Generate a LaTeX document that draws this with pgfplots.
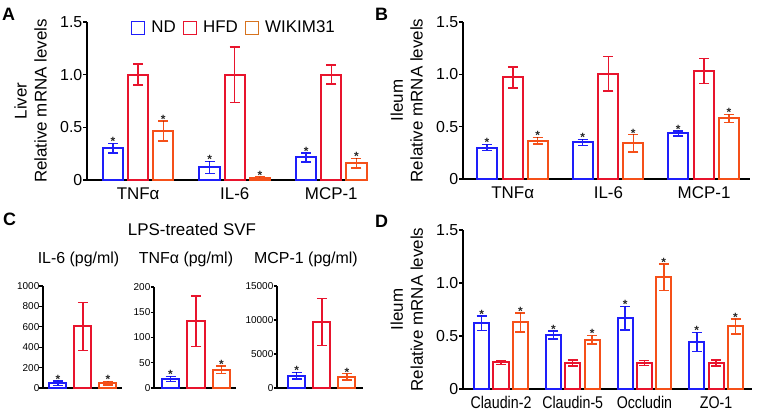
\documentclass[border=0pt]{standalone}
\usepackage{fontspec}
\setmainfont{Liberation Sans}
\newfontfamily\narrowfont{Liberation Sans}[FakeStretch=0.84]
\usepackage{pgfplots}
\pgfplotsset{compat=1.18}
\definecolor{ndblue}{RGB}{30,30,250}
\definecolor{hfdred}{RGB}{232,20,45}
\definecolor{wkorange}{RGB}{245,80,25}
\definecolor{wklegend}{RGB}{215,115,30}
\pgfplotsset{
  common/.style={scale only axis, axis x line*=bottom, axis y line*=left,
    axis line style={line width=1.5bp, black},
    tick align=outside,
    ytick style={line width=1.5bp, black},
    xtick style={draw=none},
    clip=false, ymin=0},
  bigaxis/.style={common, major tick length=4bp,
    yticklabel style={font=\fontsize{16}{18}\selectfont, inner sep=0.5bp},
    xticklabel style={font=\fontsize{17}{19}\selectfont},
    ylabel style={font=\fontsize{17}{20}\selectfont, align=center, inner sep=0pt, anchor=south},
    ymax=1.5, ytick={0,0.5,1,1.5}, yticklabels={0,0.5,1.0,1.5}},
  smallaxis/.style={common, major tick length=3.5bp,
    axis line style={line width=1.2bp}, ytick style={line width=1.2bp},
    yticklabel style={font=\fontsize{10}{11}\selectfont, inner sep=0pt},
    scaled y ticks=false,
    xtick=\empty},
  barsty/.style 2 args={ybar, bar shift=0pt, bar width=#1, fill=white, line width=2bp, draw=#2,
    error bars/y dir=both, error bars/y explicit,
    error bars/error bar style={line width=1.5bp, draw=#2},
    error bars/error mark options={rotate=90, mark size=5bp, line width=1.5bp, draw=#2}},
  starsty/.style={forget plot, only marks, mark=*, mark size=0.01pt,
    mark options={draw=none, fill=none},
    nodes near coords={*},
    nodes near coords style={anchor=base, inner sep=0pt, yshift=-2.3bp,
      font=\bfseries\fontsize{12}{12}\selectfont, text=black!85}},
  sqleg/.style={legend image code/.code={\draw[##1, line width=1.3bp, fill=white] (0bp,-6.5bp) rectangle (13bp,6.5bp);}},
}
\begin{document}
\begin{tikzpicture}
\path[use as bounding box] (0,0) rectangle (759bp,414bp);

% ---------------- Panel A ----------------
\begin{axis}[bigaxis, at={(87bp,234bp)}, anchor=south west,
  width=280bp, height=158bp, xmin=-0.53, xmax=2.37,
  xtick={0,1,2}, xticklabels={TNFα, IL-6, MCP-1},
  ylabel={Liver\\Relative mRNA levels},
  ylabel style={at={(axis description cs:-0.143,0.5)}},
  legend columns=3,
  legend style={at={(axis description cs:0.525,1.02)}, anchor=north, draw=none, fill=none,
    font=\fontsize{17}{19}\selectfont, inner sep=0pt,
    /tikz/every odd column/.append style={column sep=4bp},
    /tikz/every even column/.append style={column sep=5bp}}]
\addlegendimage{sqleg, draw=ndblue}\addlegendentry{ND}
\addlegendimage{sqleg, draw=hfdred}\addlegendentry{HFD}
\addlegendimage{sqleg, draw=wklegend}\addlegendentry{WIKIM31}
\addplot[forget plot, barsty={0.21}{ndblue}] coordinates {(-0.26,0.30) +- (0,0.045) (0.74,0.12) +- (0,0.057) (1.74,0.215) +- (0,0.043)};
\addplot[forget plot, barsty={0.21}{hfdred}] coordinates {(0,1.0) +- (0,0.1) (1,1.0) +- (0,0.265) (2,1.0) +- (0,0.09)};
\addplot[forget plot, barsty={0.21}{wkorange}] coordinates {(0.26,0.465) +- (0,0.093) (1.26,0.016) +- (0,0.012) (2.26,0.16) +- (0,0.045)};
\addplot[starsty] coordinates {(-0.26,0.345) (0.74,0.177) (1.74,0.258) (0.26,0.558) (1.26,0.028) (2.26,0.205)};
\end{axis}

% ---------------- Panel B ----------------
\begin{axis}[bigaxis, at={(463bp,235bp)}, anchor=south west,
  width=287bp, height=157bp, xmin=-0.52, xmax=2.48,
  xtick={0,1,2}, xticklabels={TNFα, IL-6, MCP-1},
  ylabel={Ileum\\Relative mRNA levels},
  ylabel style={at={(axis description cs:-0.139,0.5)}}]
\addplot[barsty={0.21}{ndblue}] coordinates {(-0.27,0.30) +- (0,0.03) (0.73,0.35) +- (0,0.028) (1.73,0.435) +- (0,0.025)};
\addplot[barsty={0.21}{hfdred}] coordinates {(0,0.97) +- (0,0.1) (1,1.005) +- (0,0.165) (2,1.03) +- (0,0.12)};
\addplot[barsty={0.21}{wkorange}] coordinates {(0.26,0.365) +- (0,0.03) (1.26,0.34) +- (0,0.083) (2.26,0.578) +- (0,0.04)};
\addplot[starsty] coordinates {(-0.27,0.33) (0.73,0.378) (1.73,0.46) (0.26,0.395) (1.26,0.423) (2.26,0.618)};
\end{axis}

% ---------------- Panel D ----------------
\begin{axis}[bigaxis, at={(463bp,25bp)}, anchor=south west,
  width=289bp, height=159bp, xmin=-0.53, xmax=3.5,
  xtick={0,1,2,3}, xticklabels={Claudin-2, Claudin-5, Occludin, ZO-1},
  xticklabel style={font=\narrowfont\fontsize{17}{19}\selectfont},
  ylabel={Ileum\\Relative mRNA levels},
  ylabel style={at={(axis description cs:-0.138,0.5)}}]
\addplot[barsty={0.21}{ndblue}] coordinates {(-0.27,0.621) +- (0,0.07) (0.73,0.511) +- (0,0.038) (1.73,0.668) +- (0,0.11) (2.73,0.442) +- (0,0.09)};
\addplot[barsty={0.21}{hfdred}] coordinates {(0,0.251) +- (0,0.018) (1,0.245) +- (0,0.03) (2,0.245) +- (0,0.025) (3,0.245) +- (0,0.03)};
\addplot[barsty={0.21}{wkorange}] coordinates {(0.27,0.628) +- (0,0.088) (1.27,0.464) +- (0,0.04) (2.27,1.054) +- (0,0.125) (3.27,0.59) +- (0,0.07)};
\addplot[starsty] coordinates {(-0.27,0.691) (0.73,0.549) (1.73,0.778) (2.73,0.532) (0.27,0.716) (1.27,0.504) (2.27,1.179) (3.27,0.66)};
\end{axis}

% ---------------- Panel C ----------------
\begin{axis}[smallaxis, at={(43bp,26bp)}, anchor=south west,
  width=79bp, height=102bp, xmin=-0.6, xmax=2.56, ymax=1000,
  ytick={0,200,400,600,800,1000}, yticklabels={0,200,400,600,800,1000}]
\addplot[barsty={0.68}{ndblue}] coordinates {(0,48) +- (0,22)};
\addplot[barsty={0.68}{hfdred}] coordinates {(1,605) +- (0,235)};
\addplot[barsty={0.68}{wkorange}] coordinates {(2,45) +- (0,18)};
\addplot[starsty] coordinates {(0,70) (2,63)};
\end{axis}

\begin{axis}[smallaxis, at={(154bp,26bp)}, anchor=south west,
  width=82bp, height=101bp, xmin=-0.65, xmax=2.57, ymax=200,
  ytick={0,50,100,150,200}, yticklabels={0,50,100,150,200}]
\addplot[barsty={0.68}{ndblue}] coordinates {(0,18) +- (0,5)};
\addplot[barsty={0.68}{hfdred}] coordinates {(1,132) +- (0,50)};
\addplot[barsty={0.68}{wkorange}] coordinates {(2,36) +- (0,7.5)};
\addplot[starsty] coordinates {(0,23) (2,43.5)};
\end{axis}

\begin{axis}[smallaxis, at={(277bp,26bp)}, anchor=south west,
  width=86bp, height=102bp, xmin=-0.78, xmax=2.64, ymax=15000,
  ytick={0,5000,10000,15000}, yticklabels={0,5000,10000,15000}]
\addplot[barsty={0.68}{ndblue}] coordinates {(0,1800) +- (0,500)};
\addplot[barsty={0.68}{hfdred}] coordinates {(1,9700) +- (0,3450)};
\addplot[barsty={0.68}{wkorange}] coordinates {(2,1650) +- (0,450)};
\addplot[starsty] coordinates {(0,2300) (2,2100)};
\end{axis}

% titles and panel letters
\node[anchor=north, inner sep=0pt, font=\fontsize{17}{19}\selectfont] at (192bp,191bp) {LPS-treated SVF};
\node[anchor=base, inner sep=0pt, font=\fontsize{16}{18}\selectfont] at (78.5bp,150bp) {IL-6 (pg/ml)};
\node[anchor=base, inner sep=0pt, font=\fontsize{16}{18}\selectfont] at (186bp,150bp) {TNFα (pg/ml)};
\node[anchor=base, inner sep=0pt, font=\fontsize{16}{18}\selectfont] at (306bp,150bp) {MCP-1 (pg/ml)};
\node[anchor=north west, inner sep=0pt, font=\bfseries\fontsize{18}{18}\selectfont] at (2bp,406bp) {A};
\node[anchor=north west, inner sep=0pt, font=\bfseries\fontsize{18}{18}\selectfont] at (375bp,406bp) {B};
\node[anchor=north west, inner sep=0pt, font=\bfseries\fontsize{18}{18}\selectfont] at (3bp,201bp) {C};
\node[anchor=north west, inner sep=0pt, font=\bfseries\fontsize{18}{18}\selectfont] at (375bp,199bp) {D};
\end{tikzpicture}
\end{document}
